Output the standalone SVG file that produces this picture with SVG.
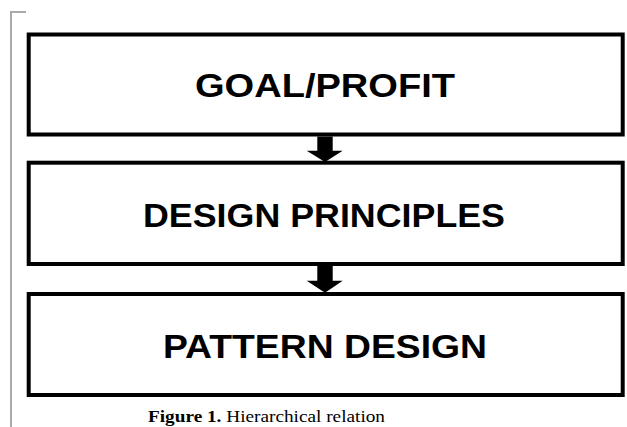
<svg xmlns="http://www.w3.org/2000/svg" width="627" height="427" viewBox="0 0 627 427">
<style>
.box{fill:#fff;stroke:#000;stroke-width:4}
.lbl{font-family:"Liberation Sans",Arial,sans-serif;font-weight:bold;font-size:34px;fill:#000;text-anchor:middle}
.arr{fill:#000}
.cap{font-family:"Liberation Serif","Times New Roman",serif;font-size:17px;fill:#000}
</style>
<rect width="627" height="427" fill="#fff"/>
<path d="M11 427 V12 H26" fill="none" stroke="#aaa" stroke-width="2"/>
<g id="goal">
<rect class="box" x="28.7" y="34.5" width="594" height="100"/>
<text class="lbl" x="325" y="97.3" textLength="260" lengthAdjust="spacingAndGlyphs">GOAL/PROFIT</text>
</g>
<g id="principles">
<rect class="box" x="28.7" y="162.7" width="594" height="101.3"/>
<text class="lbl" x="324" y="227.3" textLength="362" lengthAdjust="spacingAndGlyphs">DESIGN PRINCIPLES</text>
</g>
<g id="pattern">
<rect class="box" x="28.7" y="294" width="594" height="101"/>
<text class="lbl" x="325" y="357.5" textLength="324" lengthAdjust="spacingAndGlyphs">PATTERN DESIGN</text>
</g>
<g id="connectors">
<path class="arr" d="M317.3 136.5 H332.7 V150.7 H342.7 L325 162 L306.7 150.7 H317.3 Z"/>
<path class="arr" d="M317.3 266 H332.7 V280.7 H342.7 L325 292.7 L306.7 280.7 H317.3 Z"/>
</g>
<text class="cap" x="148" y="422" textLength="237" lengthAdjust="spacingAndGlyphs"><tspan font-weight="bold">Figure 1.</tspan> Hierarchical relation</text>
</svg>
